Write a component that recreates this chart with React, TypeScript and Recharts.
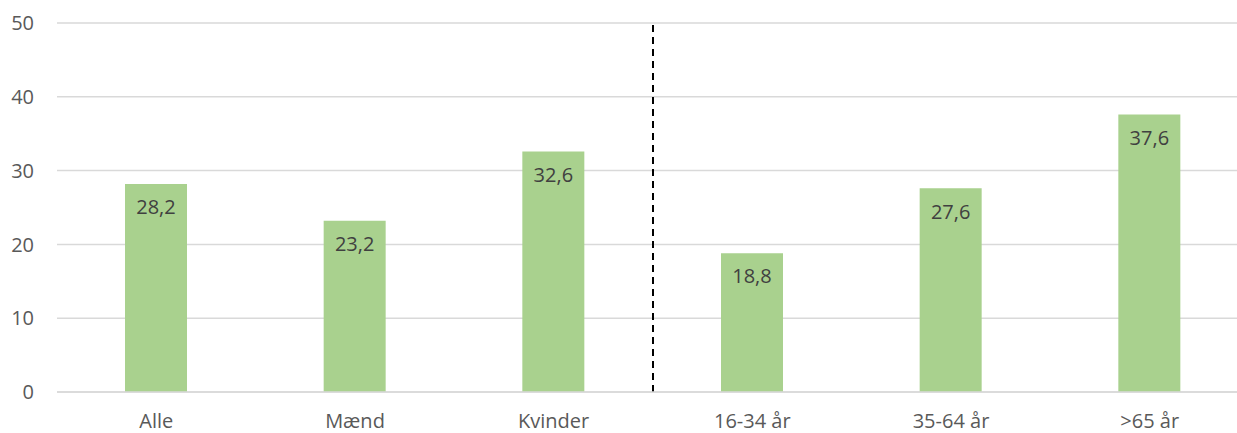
import { BarChart, Bar, XAxis, YAxis, CartesianGrid, LabelList, ReferenceLine } from "recharts";

const categories = ["Alle", "Mænd", "Kvinder", "16-34 år", "35-64 år", ">65 år"];
const values = [28.2, 23.2, 32.6, 18.8, 27.6, 37.6];
const yTicks = [0, 10, 20, 30, 40, 50];
// divider sits on the right edge of this category's band
const dividerAfter = "Kvinder";

const data = categories.map((name, i) => ({ name, value: values[i] }));

const FONT = "'Open Sans', sans-serif";

export default function App() {
  return (
    <div
      style={{
        position: "absolute",
        left: 0,
        top: 0,
        width: 1237,
        height: 433,
        overflow: "hidden",
        background: "#fff",
        fontFamily: FONT,
      }}
    >
      <BarChart
        width={1260}
        height={433}
        data={data}
        margin={{ top: 23, right: 11, bottom: 0, left: 0 }}
        barCategoryGap={0}
      >
        <CartesianGrid vertical={false} stroke="#d9d9d9" strokeWidth={1.5} />
        <XAxis
          dataKey="name"
          height={41}
          axisLine={{ stroke: "#d9d9d9", strokeWidth: 1.5 }}
          tickLine={false}
          tickMargin={16}
          tick={{ fill: "#595959", fontSize: 20, fontFamily: FONT }}
          interval={0}
        />
        <YAxis
          width={57}
          domain={[0, 50]}
          ticks={yTicks}
          axisLine={false}
          tickLine={false}
          tickMargin={17}
          tick={{ fill: "#595959", fontSize: 20, fontFamily: FONT }}
        />
        <ReferenceLine
          x={dividerAfter}
          position="end"
          stroke="#000"
          strokeWidth={2}
          strokeDasharray="7 5"
        />
        <Bar dataKey="value" fill="#a9d18e" barSize={62} isAnimationActive={false}>
          <LabelList
            dataKey="value"
            position="insideTop"
            offset={16}
            fill="#404040"
            fontSize={20}
            fontFamily={FONT}
            formatter={(v: any) => Number(v).toFixed(1).replace(".", ",")}
          />
        </Bar>
      </BarChart>
    </div>
  );
}
